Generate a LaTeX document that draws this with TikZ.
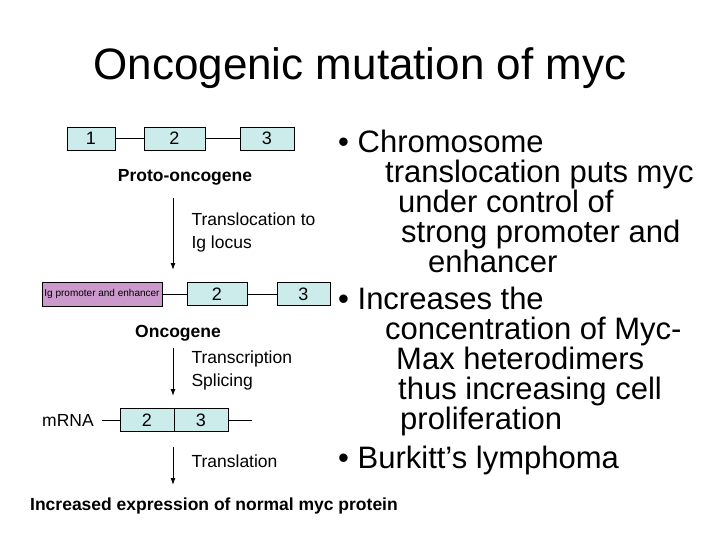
\documentclass[tikz,border=0pt]{standalone}
\usepackage{fontspec}
\setmainfont{Liberation Sans}
\usetikzlibrary{positioning,arrows.meta}
\definecolor{exon}{RGB}{204,236,236}
\definecolor{prom}{RGB}{204,153,204}
\tikzset{
  exon/.style={draw, fill=exon, minimum height=23pt, inner sep=0pt, font=\fontsize{18}{20}\selectfont},
  stage/.style={-{Latex[length=7pt,width=5pt]}, line width=1pt},
  lab/.style={anchor=west, align=left, font=\fontsize{17.5}{23}\selectfont},
  head/.style={font=\bfseries\fontsize{17.5}{20}\selectfont},
  point/.style={anchor=north west, align=left, inner sep=0pt, font=\fontsize{31}{30}\selectfont},
}
\begin{document}
\begin{tikzpicture}[x=1pt,y=-1pt]
\useasboundingbox (0,0) rectangle (720,540);
\node[font=\fontsize{44}{48}\selectfont] (title) at (360,68) {Oncogenic mutation of myc};
% proto-oncogene
\node[exon, minimum width=48pt] (e1) at (91,138.5) {1};
\node[exon, minimum width=61pt] (e2) at (174.5,138.5) {2};
\node[exon, minimum width=54pt] (e3) at (267,138.5) {3};
\draw (e1) -- (e2);
\draw (e2) -- (e3);
\node[head] (proto) at (185,177) {Proto-oncogene};
\coordinate (a1s) at (173,198);
\coordinate (a1e) at (173,270);
\draw[stage] (a1s) -- (a1e);
\node[lab] (trans) at (188,232) {Translocation to\\Ig locus};
% oncogene
\node[draw, fill=prom, minimum width=120pt, minimum height=24pt, inner sep=0pt, font=\fontsize{10}{12}\selectfont] (ig) at (102,294) {Ig promoter and enhancer};
\node[exon, minimum width=60pt] (o2) at (217,294) {2};
\node[exon, minimum width=53pt] (o3) at (303.5,294) {3};
\draw (ig) -- (o2);
\draw (o2) -- (o3);
\node[head] (onco) at (178,333) {Oncogene};
\coordinate (a2s) at (173,348);
\coordinate (a2e) at (173,396);
\draw[stage] (a2s) -- (a2e);
\node[lab] (tsp) at (188,370) {Transcription\\Splicing};
% mRNA
\node[font=\fontsize{17.5}{20}\selectfont] (mrna) at (68,420) {mRNA};
\node[exon, minimum width=54pt] (m2) at (147,420) {2};
\node[exon, minimum width=54pt] (m3) at (201,420) {3};
\coordinate (m5) at (102,420);
\coordinate (m3e) at (252,420);
\draw (m5) -- (m2);
\draw (m3) -- (m3e);
\coordinate (a3s) at (173,447);
\coordinate (a3e) at (173,485);
\draw[stage] (a3s) -- (a3e);
\node[lab] (tl) at (188,461) {Translation};
\node[head] (result) at (214,506) {Increased expression of normal myc protein};
% bullets
\node[point] (p1) at (338,130) {%
\textbullet\ Chromosome\\
\hspace{47pt}translocation puts myc\\
\hspace{60pt}under control of\\
\hspace{63pt}strong promoter and\\
\hspace{90pt}enhancer};
\node[point] (p2) at (338,287) {%
\textbullet\ Increases the\\
\hspace{47pt}concentration of Myc-\\
\hspace{58pt}Max heterodimers\\
\hspace{60pt}thus increasing cell\\
\hspace{62pt}proliferation};
\node[point] (p3) at (338,446) {\textbullet\ Burkitt’s lymphoma};
\end{tikzpicture}
\end{document}
